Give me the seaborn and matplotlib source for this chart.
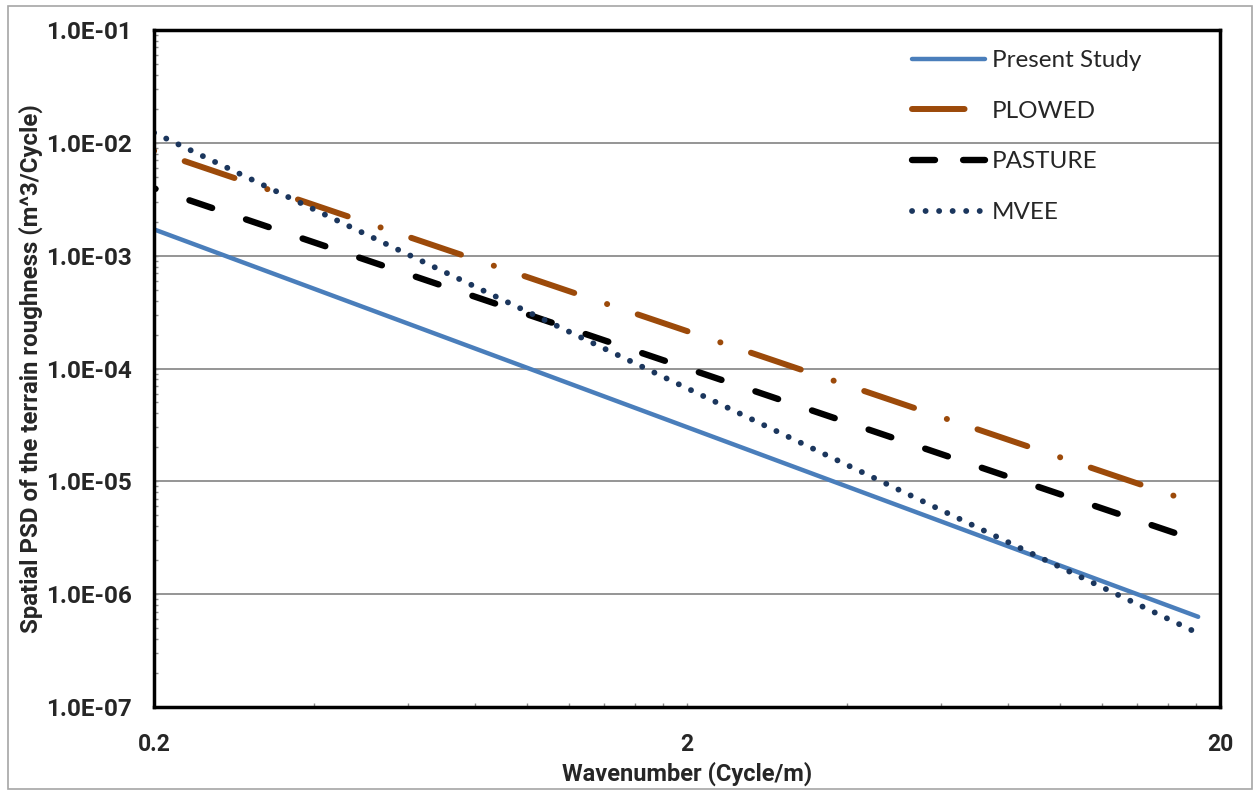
import numpy as np
import pandas as pd
import matplotlib
matplotlib.use("Agg")
import matplotlib.pyplot as plt
import seaborn as sns
from matplotlib.patches import Rectangle
from matplotlib.ticker import FixedLocator, NullFormatter, FixedFormatter

# ---- data ----
wavenumber = [0.2, 18.2]
present_study = [1.71e-3, 6.3e-7]
plowed = [8.5e-3, 6.3e-6]
pasture = [3.95e-3, 2.97e-6]
mvee = [1.23e-2, 4.5e-7]
series_names = ["Present Study", "PLOWED", "PASTURE", "MVEE"]
x_ticks = [0.2, 2, 20]
x_tick_labels = ["0.2", "2", "20"]
y_ticks = [1e-7, 1e-6, 1e-5, 1e-4, 1e-3, 1e-2, 1e-1]
y_tick_labels = ["1.0E-07", "1.0E-06", "1.0E-05", "1.0E-04", "1.0E-03", "1.0E-02", "1.0E-01"]

df = pd.DataFrame({
    "wavenumber": wavenumber * 4,
    "psd": present_study + plowed + pasture + mvee,
    "series": [n for n in series_names for _ in wavenumber],
})

sns.set_theme(style="white")
BOLD_FAMILY = ["Roboto", "Liberation Sans", "DejaVu Sans"]
plt.rcParams["font.family"] = BOLD_FAMILY
plt.rcParams["font.weight"] = "bold"

fig = plt.figure(figsize=(12.57, 7.91), dpi=100)
ax = fig.add_axes([154 / 1257, 1 - 707 / 791, (1220 - 154) / 1257, (707 - 30) / 791])

styles = {
    "Present Study": dict(color="#4A7EBB", lw=3.2, linestyle="-"),
    "PLOWED": dict(color="#9C4A0A", lw=4.3, linestyle=(0, (0.02, 5.4, 8.8, 5.8))),
    "PASTURE": dict(color="#000000", lw=4.6, linestyle=(3.5, (3.75, 5.6))),
    "MVEE": dict(color="#1B365D", lw=4.2, linestyle=(0, (0.02, 2.3))),
}
legend_styles = {
    "PLOWED": (0, (8.8, 5.8, 0.02, 5.4)),
    "PASTURE": (0, (3.6, 4.4)),
}

for name in series_names:
    sub = df[df["series"] == name]
    st = styles[name]
    sns.lineplot(data=sub, x="wavenumber", y="psd", ax=ax, color=st["color"],
                 lw=st["lw"], linestyle=st["linestyle"], sort=False,
                 dash_capstyle="round", solid_capstyle="round", label=name,
                 legend=False, estimator=None)

ax.set_xscale("log")
ax.set_yscale("log")
ax.set_xlim(0.2, 20)
ax.set_ylim(1e-7, 1e-1)

ax.xaxis.set_major_locator(FixedLocator(x_ticks))
ax.xaxis.set_major_formatter(FixedFormatter(x_tick_labels))
ax.xaxis.set_minor_locator(FixedLocator([0.2 * k for k in range(2, 10)] + [2 * k for k in range(2, 10)]))
ax.xaxis.set_minor_formatter(NullFormatter())
ax.yaxis.set_major_locator(FixedLocator(y_ticks))
ax.yaxis.set_major_formatter(FixedFormatter(y_tick_labels))
ax.yaxis.set_minor_locator(FixedLocator([k * 10.0 ** e for e in range(-7, -1) for k in range(2, 10)]))
ax.yaxis.set_minor_formatter(NullFormatter())

ax.tick_params(axis="both", which="both", direction="in", length=3, width=1.0, color="#8c8c8c",
               bottom=True, left=True)
ax.tick_params(axis="x", which="major", labelsize=16.5, pad=19)
ax.tick_params(axis="y", which="major", labelsize=17.5, pad=16)

ax.grid(False)
ax.yaxis.grid(True, which="major", color="#8c8c8c", lw=1.3)
ax.set_axisbelow(True)
for sp in ax.spines.values():
    sp.set_visible(True)
    sp.set_color("black")
    sp.set_linewidth(2.5)

ax.set_xlabel("Wavenumber (Cycle/m)", fontsize=17, fontweight="bold", labelpad=4)
ax.set_ylabel("Spatial PSD of the terrain roughness (m^3/Cycle)", fontsize=17.3,
              fontweight="bold", labelpad=2)

handles = ax.get_lines()[:4]
leg = ax.legend(handles=handles, labels=series_names, loc="upper left",
                bbox_to_anchor=(912 / 1257, 1 - 50 / 791), bbox_transform=fig.transFigure,
                frameon=False, prop={"family": ["Lato", "DejaVu Sans"], "size": 17.5, "weight": "normal"},
                handlelength=3.0, handletextpad=0.3,
                labelspacing=1.22, borderpad=0, borderaxespad=0)
for lline, name in zip(leg.get_lines(), series_names):
    if name in legend_styles:
        lline.set_linestyle(legend_styles[name])

fig.add_artist(Rectangle((8 / 1257, 1 - 789 / 791), 1244 / 1257, 783 / 791,
                         transform=fig.transFigure, fill=False, edgecolor="#a6a6a6", lw=1.2))

fig.savefig("out.png", dpi=100)
